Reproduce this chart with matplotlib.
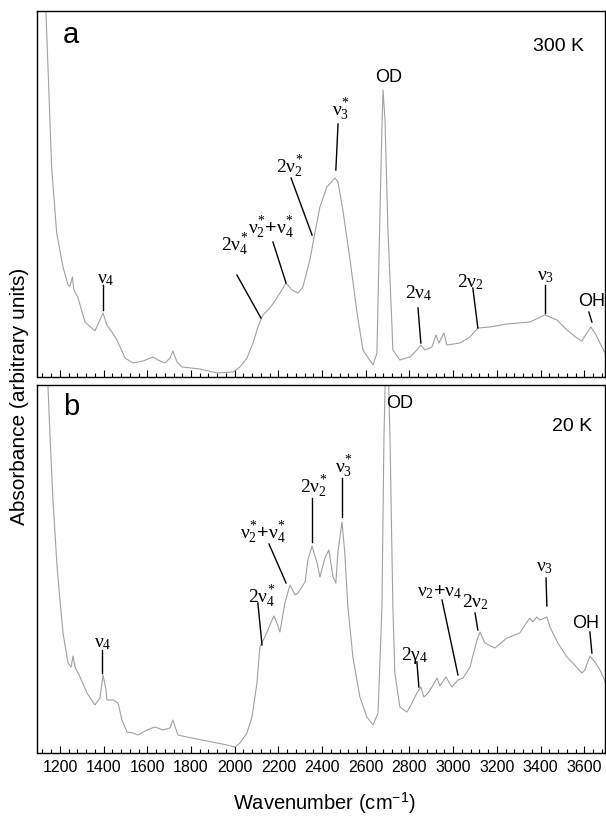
import matplotlib
matplotlib.use("Agg")
import matplotlib.pyplot as plt
from matplotlib.ticker import MultipleLocator

plt.rcParams['font.family'] = ['Liberation Sans', 'DejaVu Sans']
plt.rcParams['mathtext.fontset'] = 'custom'
plt.rcParams['mathtext.rm'] = 'Liberation Serif'
plt.rcParams['mathtext.it'] = 'Liberation Serif'
plt.rcParams['mathtext.bf'] = 'Liberation Serif:bold'

# ---- data: panel a (300 K) ----
wn_a = [1132, 1136, 1162, 1185, 1214, 1237, 1246, 1257, 1264, 1283, 1315, 1360,
        1383, 1397, 1415, 1438, 1461, 1498, 1534, 1580, 1626, 1658, 1681, 1704,
        1717, 1736, 1759, 1841, 1919, 1992, 2024, 2056, 2084, 2106, 2129, 2161,
        2193, 2235, 2262, 2290, 2312, 2344, 2367, 2390, 2422, 2459, 2473, 2495,
        2528, 2560, 2587, 2633, 2651, 2660, 2674, 2679, 2688, 2701, 2720, 2724,
        2756, 2802, 2834, 2852, 2871, 2903, 2921, 2935, 2958, 2971, 3031, 3077,
        3113, 3168, 3246, 3351, 3420, 3475, 3521, 3566, 3589, 3612, 3630, 3649,
        3672, 3695]
abs_a = [387, 365, 210, 144, 110, 92, 91, 100, 87, 79, 55, 46,
         57, 64, 52, 45, 37, 19, 14, 16, 20, 16, 14, 19,
         26, 15, 10, 8, 4, 5, 10, 19, 34, 50, 62, 69,
         79, 94, 87, 84, 90, 117, 144, 170, 190, 199, 195, 167,
         117, 64, 27, 12, 24, 117, 250, 287, 257, 150, 50, 27,
         17, 20, 27, 32, 27, 30, 42, 34, 44, 32, 34, 40,
         49, 50, 53, 55, 62, 57, 47, 39, 36, 44, 50, 44,
         34, 24]

# ---- data: panel b (20 K) ----
wn_b = [1141, 1145, 1154, 1168, 1187, 1200, 1214, 1237, 1251, 1260, 1269, 1292,
        1324, 1360, 1383, 1397, 1411, 1415, 1443, 1466, 1484, 1507, 1534, 1557,
        1598, 1635, 1672, 1704, 1717, 1740, 1781, 1873, 1965, 2001, 2024, 2056,
        2079, 2102, 2115, 2138, 2171, 2180, 2193, 2207, 2230, 2253, 2276, 2290,
        2322, 2335, 2354, 2377, 2390, 2413, 2431, 2450, 2463, 2472, 2491, 2504,
        2518, 2541, 2573, 2605, 2633, 2656, 2674, 2683, 2692, 2701, 2711, 2724,
        2733, 2756, 2788, 2802, 2834, 2852, 2866, 2885, 2903, 2926, 2939, 2967,
        2994, 3022, 3045, 3077, 3109, 3123, 3145, 3191, 3246, 3305, 3338, 3351,
        3365, 3383, 3397, 3429, 3443, 3479, 3521, 3548, 3589, 3603, 3626, 3649,
        3672, 3699]
abs_b = [383, 368, 320, 253, 186, 153, 120, 90, 86, 97, 86, 76,
         60, 48, 55, 78, 63, 53, 53, 50, 33, 21, 20, 18,
         23, 26, 23, 25, 33, 18, 16, 12, 8, 6, 10, 20,
         36, 70, 106, 116, 133, 137, 130, 121, 150, 168, 158, 160,
         171, 193, 207, 190, 176, 195, 203, 176, 170, 200, 231, 200,
         146, 96, 56, 36, 28, 40, 146, 313, 400, 400, 313, 146,
         80, 46, 41, 46, 60, 66, 56, 60, 66, 75, 67, 76,
         66, 73, 75, 86, 113, 121, 110, 105, 115, 120, 131, 135,
         131, 136, 133, 136, 126, 110, 96, 90, 80, 83, 97, 91,
         83, 70]

xticks_major = [1200, 1400, 1600, 1800, 2000, 2200, 2400, 2600, 2800, 3000, 3200, 3400, 3600]

# annotations: (text, text_x, text_y, line_x0, line_y0, line_x1, line_y1)
ann_a = [
    (r'$\nu^{*}_{3}$', 2486, 267, 2473, 253, 2463, 207),
    (r'$2\nu^{*}_{2}$', 2253, 210, 2258, 199, 2354, 142),
    (r'$\nu^{*}_{2}$+$\nu^{*}_{4}$', 2166, 149, 2175, 135, 2235, 94),
    (r'$2\nu^{*}_{4}$', 2001, 132, 2010, 102, 2120, 59),
    (r'$\nu_{4}$', 1411, 97, 1397, 92, 1397, 67),
    (r'$2\nu_{4}$', 2843, 84, 2839, 69, 2852, 34),
    (r'$2\nu_{2}$', 3077, 95, 3090, 89, 3113, 49),
    (r'$\nu_{3}$', 3425, 100, 3420, 92, 3420, 64),
]
ann_b = [
    (r'$\nu^{*}_{3}$', 2500, 286, 2491, 275, 2491, 236),
    (r'$2\nu^{*}_{2}$', 2363, 266, 2354, 255, 2354, 211),
    (r'$\nu^{*}_{2}$+$\nu^{*}_{4}$', 2129, 220, 2157, 209, 2235, 170),
    (r'$2\nu^{*}_{4}$', 2125, 156, 2106, 150, 2125, 108),
    (r'$\nu_{4}$', 1397, 110, 1392, 103, 1392, 80),
    (r'$2\gamma_{4}$', 2825, 98, 2834, 91, 2843, 66),
    (r'$\nu_{2}$+$\nu_{4}$', 2939, 161, 2949, 153, 3022, 78),
    (r'$2\nu_{2}$', 3100, 151, 3100, 140, 3113, 123),
    (r'$\nu_{3}$', 3420, 185, 3425, 175, 3429, 147),
]
sans_a = [('OD', 2704, 299, None), ('OH', 3635, 75, (3621, 65, 3635, 55))]
sans_b = [('OD', 2756, 350, None), ('OH', 3608, 130, (3626, 121, 3635, 100))]

fig = plt.figure(figsize=(6.06, 8.18), dpi=100)
W, H = 606, 818
ax_a = fig.add_axes([37 / W, (H - 377) / H, 568 / W, 366 / H])
ax_b = fig.add_axes([37 / W, (H - 753) / H, 568 / W, 368 / H])

line_color = '#a0a0a0'
for ax, wn, ab, ymax in [(ax_a, wn_a, abs_a, 366), (ax_b, wn_b, abs_b, 368)]:
    ax.plot(wn, ab, color=line_color, lw=0.8)
    ax.set_xlim(1095, 3695)
    ax.set_ylim(0, ymax)
    ax.set_yticks([])
    ax.xaxis.set_major_locator(MultipleLocator(200))
    ax.xaxis.set_minor_locator(MultipleLocator(40))
    ax.tick_params(axis='x', which='major', direction='in', length=5, width=0.8,
                   labelsize=11.5, pad=5)
    ax.tick_params(axis='x', which='minor', direction='in', length=2.8, width=0.8)
    for s in ax.spines.values():
        s.set_linewidth(1.0)

ax_a.set_xticks(xticks_major)
ax_b.set_xticks(xticks_major)
ax_a.tick_params(axis='x', labelbottom=False)

for ax, anns, sans in [(ax_a, ann_a, sans_a), (ax_b, ann_b, sans_b)]:
    for t, tx, ty, x0, y0, x1, y1 in anns:
        ax.text(tx, ty, t, ha='center', va='center', fontsize=14)
        ax.plot([x0, x1], [y0, y1], color='black', lw=1.0)
    for t, tx, ty, ln in sans:
        ax.text(tx, ty, t, ha='center', va='center', fontsize=13)
        if ln is not None:
            ax.plot([ln[0], ln[2]], [ln[1], ln[3]], color='black', lw=1.0)

ax_a.text(0.046, 0.934, 'a', transform=ax_a.transAxes, fontsize=21, ha='left', va='center')
ax_b.text(0.046, 0.940, 'b', transform=ax_b.transAxes, fontsize=21, ha='left', va='center')
ax_a.text(0.873, 0.902, '300 K', transform=ax_a.transAxes, fontsize=14, ha='left', va='center')
ax_b.text(0.907, 0.886, '20 K', transform=ax_b.transAxes, fontsize=14, ha='left', va='center')

fig.text(20 / W, 1 - 396 / H, 'Absorbance (arbitrary units)', rotation=90,
         ha='center', va='center', fontsize=15)
fig.text(324 / W, 1 - 803 / H, r'Wavenumber (cm$^{\mathregular{-1}}$)',
         ha='center', va='center', fontsize=14.5)

fig.savefig('out.png', dpi=100)
